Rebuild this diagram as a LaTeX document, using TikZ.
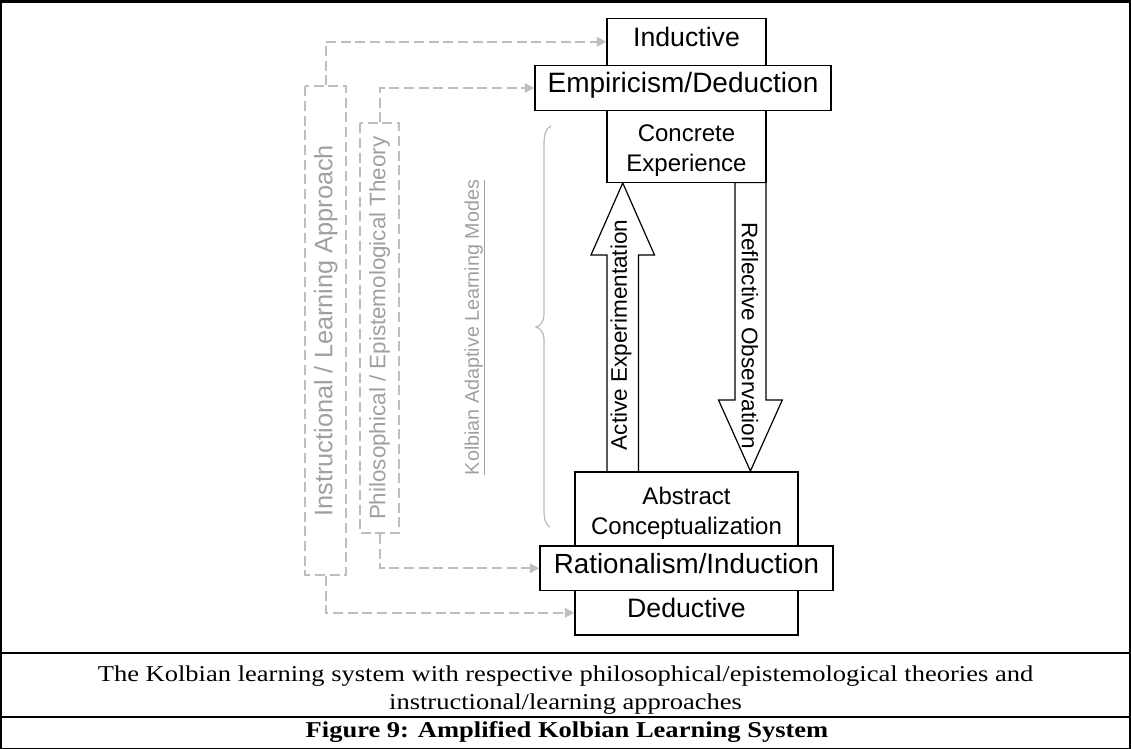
\documentclass[tikz,border=0pt]{standalone}
\usepackage{fontspec}
\setmainfont{Liberation Serif}
\newfontfamily\arialfont{Liberation Sans}
\newfontfamily\capfont[FakeStretch=1.17]{Liberation Serif}
\usetikzlibrary{arrows.meta}
\definecolor{linkgray}{RGB}{190,190,190}
\definecolor{labelgray}{RGB}{160,160,160}
\definecolor{bracegray}{RGB}{185,185,185}

\begin{document}
\begin{tikzpicture}[x=0.75pt,y=-0.75pt,
  box/.style={draw=black, line width=1.1pt, fill=white, inner sep=0pt,
    align=center, text height=0.716em, text depth=0pt},
  bigtext/.style={font=\arialfont\fontsize{#1}{#1}\selectfont},
  twoline/.style={font=\arialfont\fontsize{18}{22.5}\selectfont},
  blockarrow/.style={draw=black, line width=0.9pt, fill=white},
  flowtext/.style={font=\arialfont\fontsize{16.9}{18}\selectfont, inner sep=0pt},
  framebox/.style={draw=linkgray, line width=1.5pt, dash pattern=on 7.5pt off 3.5pt,
    text=labelgray, inner sep=0pt, rotate=90},
  link/.style={draw=linkgray, line width=1.5pt, dash pattern=on 7.5pt off 3.5pt,
    -{Triangle[length=7pt,width=7pt]}},
  captext/.style={anchor=base, inner sep=0pt, font=\capfont\fontsize{17}{20}\selectfont},
  rule/.style={draw=black, line width=#1}
]
\useasboundingbox (0,0) rectangle (1131,749);

% table frame
\draw[rule=2.2pt] (0,1.5) -- (1131,1.5);
\draw[rule=1.1pt] (0.8,0) -- (0.8,749);
\draw[rule=1.1pt] (1130.2,0) -- (1130.2,749);
\draw[rule=2.2pt] (0,653) -- (1131,653);
\draw[rule=2.2pt] (0,717) -- (1131,717);
\draw[rule=1.1pt] (0,748.3) -- (1131,748.3);

% block arrows between the two poles of the cycle
\draw[blockarrow] (607,472) -- (607,255) -- (591,255) -- (622.75,183)
  -- (654.5,255) -- (638.5,255) -- (638.5,472) -- cycle;
\draw[blockarrow] (735,182.5) -- (735,400) -- (718.5,400) -- (750.4,471)
  -- (782.3,400) -- (766,400) -- (766,182.5) -- cycle;
\node[flowtext, rotate=90] (ae) at (621,335) {Active Experimentation};
\node[flowtext, rotate=-90] (ro) at (750,335.5) {Reflective Observation};

% learning mode boxes
\node[box, bigtext=20, minimum width=119.25pt, minimum height=35.25pt] (ind) at (686.5,41.75) {Inductive};
\node[box, bigtext=21, minimum width=222pt, minimum height=33.75pt] (emp) at (683,88) {Empiricism/Deduction};
\node[draw=black, line width=1.1pt, fill=white, minimum width=119.25pt, minimum height=54pt] (ce) at (686.5,146.5) {};
\node[twoline, align=center, inner sep=0pt] (cet) at (686.5,150.5) {Concrete\\Experience};
\node[draw=black, line width=1.1pt, fill=white, minimum width=167.25pt, minimum height=55.5pt] (ac) at (686.5,509) {};
\node[twoline, align=center, inner sep=0pt] (act) at (686.5,513) {Abstract\\Conceptualization};
\node[box, bigtext=20.8, minimum width=219.75pt, minimum height=33.4pt] (rat) at (686.5,568.25) {Rationalism/Induction};
\node[box, bigtext=20, minimum width=167.25pt, minimum height=33.4pt] (ded) at (686.5,612.75) {Deductive};

% theory and approach frames
\node[framebox, font=\arialfont\fontsize{19}{20}\selectfont,
  minimum width=366.4pt, minimum height=31.1pt] (instr) at (325.75,330.75)
  {Instructional / Learning Approach};
\node[framebox, font=\arialfont\fontsize{16.8}{18}\selectfont,
  minimum width=307.4pt, minimum height=29.25pt] (phil) at (379.5,328.2)
  {Philosophical / Epistemological Theory};

\draw[link] (instr.east) |- (ind.west);
\draw[link] (instr.west) |- (ded.west);
\draw[link] (phil.east) |- (emp.west);
\draw[link] (phil.west) |- (rat.west);

% brace grouping the adaptive modes
\node[text=labelgray, font=\arialfont\fontsize{14.8}{16}\selectfont, rotate=90, inner sep=0pt]
  (klm) at (475,327.5) {\underline{Kolbian Adaptive Learning Modes}};
\draw[bracegray, line width=0.9pt]
  (551,126) .. controls (546,128) and (544,134) .. (544,146) -- (544,314)
  .. controls (544,322) and (540,326) .. (536,327)
  .. controls (540,328) and (544,332) .. (544,340) -- (544,510)
  .. controls (544,520) and (546,525) .. (550,527);

% caption rows
\node[captext] (cap1) at (565.5,681.7)
  {The Kolbian learning system with respective philosophical/epistemological theories and};
\node[captext] (cap2) at (565.5,709.3)
  {instructional/learning approaches};
\node[captext, font=\capfont\bfseries\fontsize{17}{20}\selectfont] (fig) at (567,737)
  {Figure 9: Amplified Kolbian Learning System};
\end{tikzpicture}
\end{document}
